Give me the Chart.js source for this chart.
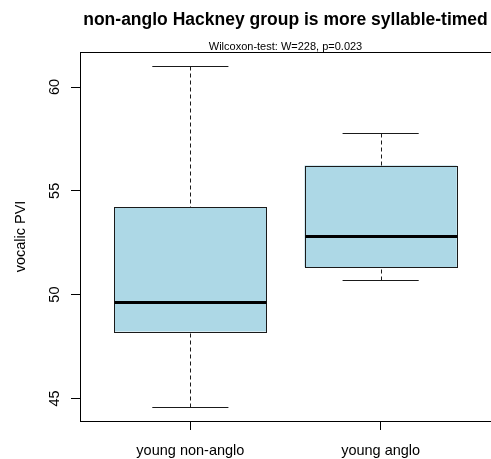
<!DOCTYPE html>
<html>
<head>
<meta charset="utf-8">
<script src="https://cdn.jsdelivr.net/npm/chart.js@4.4.1/dist/chart.umd.min.js"></script>
<style>
  html, body { margin: 0; padding: 0; background: #fff; }
</style>
</head>
<body>
<canvas id="chartBoxplot" width="491" height="459"></canvas>
<script>
// Groupes et statistiques des boîtes
const groups = ['young non-anglo', 'young anglo'];
const whiskerLow = [44.57, 50.72];
const q1 = [48.22, 51.32];
const medians = [49.65, 52.84];
const q3 = [54.2, 56.22];
const whiskerHigh = [61.03, 57.8];
const yTicks = [45, 50, 55, 60];

const mainTitle = 'non-anglo Hackney group is more syllable-timed';
const subTitle = 'Wilcoxon-test: W=228, p=0.023';
const yLabel = 'vocalic PVI';

const FONT = '"Liberation Sans", Arial, Helvetica, sans-serif';
const BOX_FILL = '#add8e6';
const LINE = '#1a1a1a';

// Étendue des axes façon R : 4 % de marge de chaque côté
const lo = Math.min(...whiskerLow);
const hi = Math.max(...whiskerHigh);
const yPad = (hi - lo) * 0.04;
const xPad = groups.length * 0.04;

/**
 * Contours des boîtes, moustaches, médianes, cadre et textes
 */
const boxplotExtras = {
    id: 'boxplotExtras',
    afterDatasetsDraw(chart) {
        const { ctx, scales: { x, y } } = chart;
        const bars = chart.getDatasetMeta(0).data;
        const px = v => Math.round(v) + 0.5;
        ctx.save();
        groups.forEach((g, i) => {
            const cx = px(x.getPixelForValue(i + 1));
            const capL = x.getPixelForValue(i + 1 - 0.2);
            const capR = x.getPixelForValue(i + 1 + 0.2);
            const py = v => px(y.getPixelForValue(v));
            const bar = bars[i];
            const bl = px(bar.x - bar.width / 2);
            const br = px(bar.x + bar.width / 2);

            ctx.strokeStyle = LINE;
            ctx.lineWidth = 1;

            // moustaches en pointillés
            ctx.setLineDash([4, 3]);
            ctx.beginPath();
            ctx.moveTo(cx, py(whiskerHigh[i]));
            ctx.lineTo(cx, py(q3[i]));
            ctx.moveTo(cx, py(whiskerLow[i]));
            ctx.lineTo(cx, py(q1[i]));
            ctx.stroke();
            ctx.setLineDash([]);

            // extrémités
            ctx.beginPath();
            ctx.moveTo(capL, py(whiskerHigh[i]));
            ctx.lineTo(capR, py(whiskerHigh[i]));
            ctx.moveTo(capL, py(whiskerLow[i]));
            ctx.lineTo(capR, py(whiskerLow[i]));
            ctx.stroke();

            // contour de la boîte
            ctx.strokeRect(bl, py(q3[i]), br - bl, py(q1[i]) - py(q3[i]));

            // médiane
            ctx.strokeStyle = '#000';
            ctx.lineWidth = 3;
            ctx.beginPath();
            ctx.moveTo(bl, py(medians[i]));
            ctx.lineTo(br, py(medians[i]));
            ctx.stroke();
        });
        ctx.restore();
    },
    afterDraw(chart) {
        const { ctx, chartArea: a, scales: { y } } = chart;
        const cx = (a.left + a.right) / 2;
        ctx.save();

        // cadre
        ctx.strokeStyle = '#000';
        ctx.lineWidth = 1;
        ctx.strokeRect(a.left + 0.5, a.top + 0.5, a.right - a.left, a.bottom - a.top);

        ctx.fillStyle = '#000';
        ctx.textAlign = 'center';

        // titre et sous-titre
        ctx.textBaseline = 'alphabetic';
        ctx.font = 'bold 17.5px ' + FONT;
        ctx.fillText(mainTitle, cx, 25);
        ctx.font = '11px ' + FONT;
        ctx.fillText(subTitle, cx, 50);

        // étiquettes Y verticales
        ctx.font = '14.5px ' + FONT;
        ctx.textBaseline = 'middle';
        yTicks.forEach(v => {
            ctx.save();
            ctx.translate(54.5, y.getPixelForValue(v));
            ctx.rotate(-Math.PI / 2);
            ctx.fillText(String(v), 0, 0);
            ctx.restore();
        });

        // titre de l'axe Y
        ctx.save();
        ctx.translate(21, (a.top + a.bottom) / 2);
        ctx.rotate(-Math.PI / 2);
        ctx.fillText(yLabel, 0, 0);
        ctx.restore();

        ctx.restore();
    }
};

const ctx = document.getElementById('chartBoxplot');

new Chart(ctx, {
    type: 'bar',
    data: {
        datasets: [{
            label: yLabel,
            data: groups.map((g, i) => ({ x: i + 1, y: [q1[i], q3[i]] })),
            backgroundColor: BOX_FILL,
            borderWidth: 0,
            barPercentage: 0.8,
            categoryPercentage: 1
        }]
    },
    options: {
        responsive: false,
        animation: false,
        devicePixelRatio: 1,
        layout: {
            padding: { top: 52, right: -1, bottom: 0, left: 0 }
        },
        plugins: {
            legend: { display: false },
            tooltip: { enabled: false },
            title: { display: false }
        },
        scales: {
            x: {
                type: 'linear',
                min: 0.5 - xPad,
                max: groups.length + 0.5 + xPad,
                offset: false,
                grid: {
                    offset: false,
                    drawOnChartArea: false,
                    drawTicks: true,
                    tickLength: 9,
                    color: '#000'
                },
                border: { display: false },
                ticks: {
                    color: '#000',
                    font: { family: FONT, size: 14.5 },
                    padding: 12,
                    autoSkip: false,
                    maxRotation: 0,
                    callback: v => groups[v - 1] || ''
                },
                afterBuildTicks: s => { s.ticks = groups.map((g, i) => ({ value: i + 1 })); },
                afterFit: s => { s.height = 38; }
            },
            y: {
                type: 'linear',
                min: lo - yPad,
                max: hi + yPad,
                grid: {
                    drawOnChartArea: false,
                    drawTicks: true,
                    tickLength: 9,
                    color: '#000'
                },
                border: { display: false },
                ticks: { display: false },
                afterBuildTicks: s => { s.ticks = yTicks.map(v => ({ value: v })); },
                afterFit: s => { s.width = 80; }
            }
        }
    },
    plugins: [boxplotExtras]
});
</script>
</body>
</html>
